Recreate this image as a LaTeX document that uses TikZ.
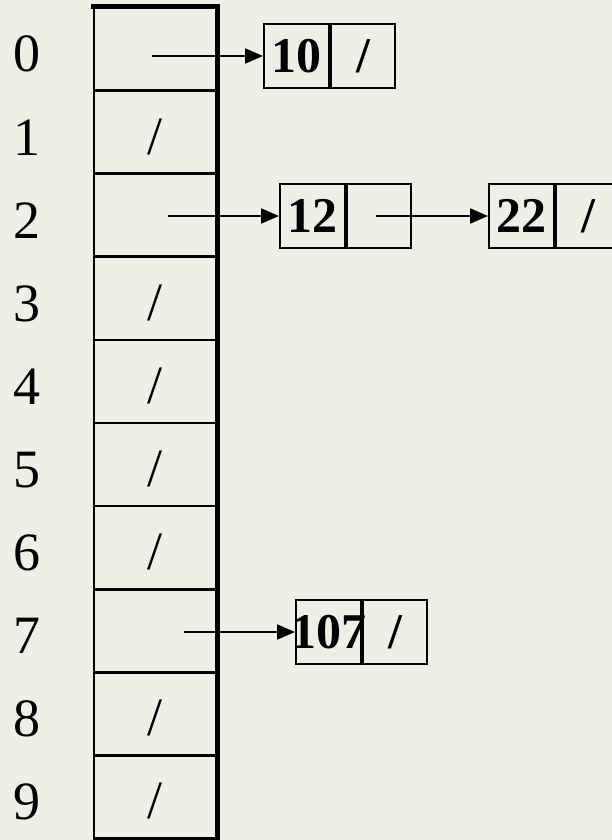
\documentclass[tikz,border=0pt]{standalone}
\usepackage{fontspec}
\setmainfont{Liberation Serif}
\usetikzlibrary{arrows.meta}
\definecolor{bg}{RGB}{240,239,231}
\begin{document}
\begin{tikzpicture}[x=1pt,y=-1pt,
  cell/.style={draw, line width=2.7pt, minimum width=122pt, minimum height=83.1pt, inner sep=0pt},
  slash/.style={inner sep=0pt, yshift=-4.5pt, font=\fontsize{54}{54}\selectfont},
  idx/.style={anchor=base, inner sep=0pt, font=\fontsize{54}{54}\selectfont},
  keybox/.style={draw, line width=2.2pt, anchor=west, minimum width=65pt, minimum height=64pt, inner sep=0pt, font=\bfseries\fontsize{50}{50}\selectfont},
  ptrbox/.style={draw, line width=2.2pt, anchor=west, minimum width=64pt, minimum height=64pt, inner sep=0pt, font=\bfseries\fontsize{50}{50}\selectfont},
  link/.style={line width=2.2pt, -{Triangle[length=18pt,width=15pt]}}]
\fill[bg] (0,0) rectangle (612,840);
\useasboundingbox (0,0) rectangle (612,840);
% table cells
\node[cell] (c0) at (155,49.05) {};
\node[cell] (c1) at (155,132.15) {};
\node[cell] (c2) at (155,215.25) {};
\node[cell] (c3) at (155,298.35) {};
\node[cell] (c4) at (155,381.45) {};
\node[cell] (c5) at (155,464.55) {};
\node[cell] (c6) at (155,547.65) {};
\node[cell] (c7) at (155,630.75) {};
\node[cell] (c8) at (155,713.85) {};
\node[cell] (c9) at (155,796.95) {};
\draw[line width=5pt] ([xshift=-1.35pt]c0.north west) -- (c0.north east) -- (c9.south east);
\draw[line width=3.5pt] (c9.south west) -- (c9.south east);
% slashes in empty slots
\node[slash] (s1) at (c1.center) {/};
\node[slash] (s3) at (c3.center) {/};
\node[slash] (s4) at (c4.center) {/};
\node[slash] (s5) at (c5.center) {/};
\node[slash] (s6) at (c6.center) {/};
\node[slash] (s8) at (c8.center) {/};
\node[slash] (s9) at (c9.center) {/};
% index labels
\node[idx] (l0) at (27,72) {0};
\node[idx] (l1) at (27,155) {1};
\node[idx] (l2) at (27,238) {2};
\node[idx] (l3) at (27,321) {3};
\node[idx] (l4) at (27,404) {4};
\node[idx] (l5) at (27,487) {5};
\node[idx] (l6) at (27,570) {6};
\node[idx] (l7) at (27,653) {7};
\node[idx] (l8) at (27,736) {8};
\node[idx] (l9) at (27,819) {9};
% list nodes
\node[keybox] (k0) at (263,56) {10};
\node[ptrbox] (p0) at (k0.east) {/};
\node[keybox] (k2) at (279,216) {12};
\node[ptrbox] (p2) at (k2.east) {};
\node[keybox] (k22) at (488,216) {22};
\node[ptrbox] (p22) at (k22.east) {/};
\node[keybox] (k7) at (295,632) {\makebox[0pt]{107}};
\node[ptrbox] (p7) at (k7.east) {/};
% pointers
\coordinate (a0) at (152,56);
\coordinate (a2) at (168,216);
\coordinate (a12) at (376,216);
\coordinate (a7) at (184,632);
\draw[link] (a0) -- (k0.west);
\draw[link] (a2) -- (k2.west);
\draw[link] (a12) -- (k22.west);
\draw[link] (a7) -- (k7.west);
\end{tikzpicture}
\end{document}
